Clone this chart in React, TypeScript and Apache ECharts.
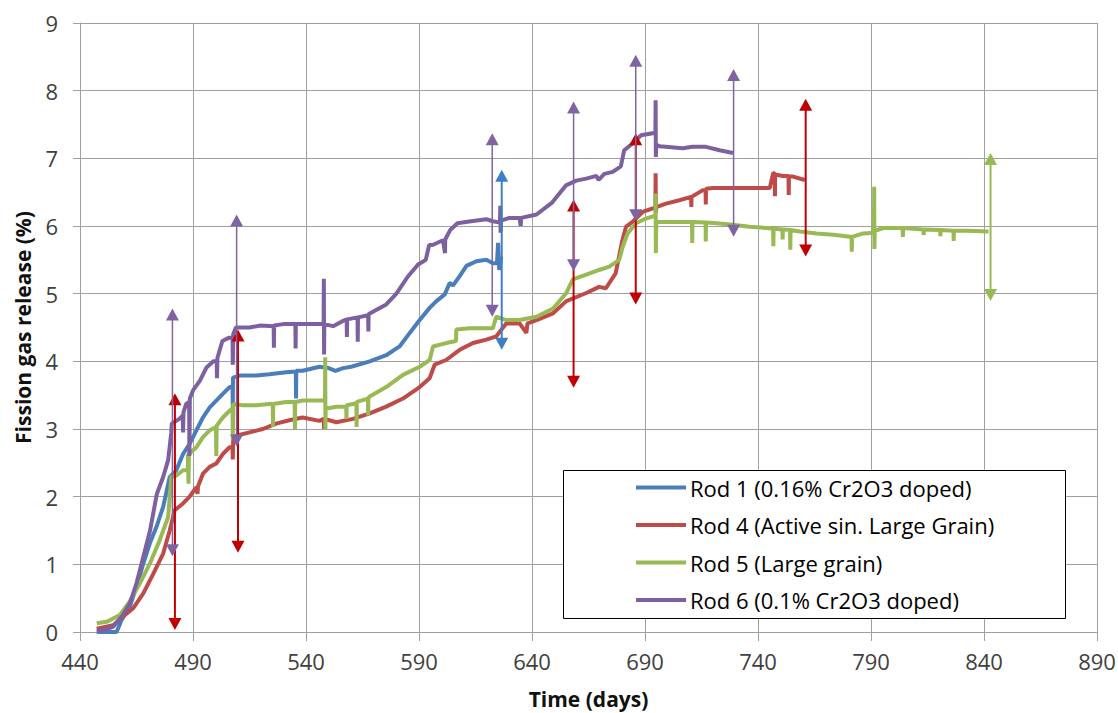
import React, { useEffect, useRef } from "react";
import * as echarts from "echarts";

// x axis starts at 440 days, ticks every 50 days
const X_MIN = 440;
const X_MAX = 890;
const X_STEP = 50;
const Y_MIN = 0;
const Y_MAX = 9;

const seriesNames = [
  "Rod 1 (0.16% Cr2O3 doped)",
  "Rod 4 (Active sin. Large Grain)",
  "Rod 5 (Large grain)",
  "Rod 6 (0.1% Cr2O3 doped)",
];
const lineColors = ["#4A7EBB", "#BE4B48", "#98B954", "#7D60A0"];
const arrowColors = ["#3F7FC6", "#C00000", "#98B954", "#8064A2"];

// [day, fission gas release %]
const rod1 = [
  [447.4, 0], [456.2, 0], [458.4, 0.18], [462, 0.37], [465, 0.67], [468, 1.01], [470.9, 1.31],
  [473.8, 1.55], [476.8, 1.85], [479.7, 2.29], [482.6, 2.39], [485.6, 2.63], [488.5, 2.78],
  [491.5, 2.98], [494.4, 3.17], [497.4, 3.32], [500.3, 3.42], [503.2, 3.52], [506.2, 3.62],
  [507.5, 3.62], [507.6, 3.3], [507.7, 3.76], [510.6, 3.79], [518, 3.79], [523.8, 3.81],
  [531.2, 3.84], [535.5, 3.85], [535.6, 3.45], [535.7, 3.86], [538.5, 3.86], [546, 3.92],
  [550, 3.9], [553, 3.86], [556.4, 3.9], [560, 3.92], [568.2, 4.0], [575.5, 4.09], [581.4, 4.22],
  [585.9, 4.42], [590.3, 4.61], [594.7, 4.79], [597.7, 4.89], [601.4, 4.99], [603.6, 5.16],
  [605, 5.12], [608, 5.26], [611, 5.41], [615.4, 5.48], [619.8, 5.5], [622.7, 5.45],
  [624.5, 5.45], [625, 5.75], [625.5, 5.35], [626.4, 5.55],
];

const rod4 = [
  [447.4, 0.05], [454.7, 0.1], [459.1, 0.23], [463.5, 0.35], [468, 0.57], [472.4, 0.86],
  [476.8, 1.16], [479.7, 1.5], [481.9, 1.8], [485.6, 1.9], [488.5, 2.0], [491.5, 2.14],
  [492, 2.04], [492.2, 2.15], [494.4, 2.34], [497.4, 2.44], [500.3, 2.49], [503.2, 2.63],
  [506.2, 2.73], [507.5, 2.73], [507.6, 2.55], [507.8, 2.85], [509.1, 2.9], [515, 2.95],
  [520.9, 3.0], [526.8, 3.08], [532.6, 3.13], [538.5, 3.17], [546, 3.12], [547.9, 3.15],
  [548, 3.0], [548.1, 3.15], [553.4, 3.1], [560.8, 3.15], [568.2, 3.23], [575.5, 3.33],
  [582.9, 3.45], [590.3, 3.62], [594.7, 3.75], [596.9, 3.95], [602, 4.02], [608, 4.17],
  [613.9, 4.27], [619.8, 4.32], [624.2, 4.37], [628.6, 4.56], [634.5, 4.56], [637.5, 4.42],
  [638, 4.56], [642, 4.61], [649.3, 4.71], [655.2, 4.89], [664, 5.01], [669.7, 5.1],
  [672.7, 5.08], [677, 5.3], [680, 5.79], [681.6, 5.99], [684.5, 6.06], [689, 6.21],
  [693.4, 6.26], [694.6, 6.26], [694.7, 6.78], [694.8, 6.2], [695, 6.28], [699.3, 6.33],
  [705.2, 6.38], [710.4, 6.43], [710.5, 6.28], [710.6, 6.43], [715.6, 6.53], [716.8, 6.53],
  [716.9, 6.32], [717, 6.55], [720, 6.56], [728.9, 6.56], [736.3, 6.56], [745.2, 6.56],
  [746.7, 6.78], [747.4, 6.78], [747.5, 6.44], [747.6, 6.76], [751, 6.74], [753.5, 6.74],
  [753.6, 6.46], [753.7, 6.73], [755.5, 6.73], [760.7, 6.68],
];

const rod5 = [
  [447.4, 0.13], [451.8, 0.15], [457.6, 0.25], [462, 0.45], [466.5, 0.72], [470.9, 1.01],
  [475.3, 1.36], [479, 1.7], [480.4, 2.29], [482.6, 2.31], [485.6, 2.39], [487.7, 2.39],
  [487.8, 2.63], [488, 2.19], [488.2, 2.63], [491.5, 2.73], [494.4, 2.88], [497.4, 2.98],
  [500.2, 3.03], [500.3, 2.6], [500.5, 3.05], [503.2, 3.17], [506.2, 3.27], [507.5, 3.3],
  [507.6, 2.85], [507.8, 3.37], [512, 3.35], [518, 3.35], [523.8, 3.37], [525.3, 3.37],
  [525.4, 3.03], [525.5, 3.37], [531.2, 3.4], [535, 3.4], [535.1, 3.0], [535.2, 3.4],
  [538.5, 3.42], [548.4, 3.42], [548.5, 4.06], [548.6, 3.0], [548.7, 3.3], [553.4, 3.33],
  [557.8, 3.33], [557.9, 3.15], [558, 3.35], [562.3, 3.38], [562.4, 3.03], [562.5, 3.4],
  [567.4, 3.45], [567.5, 3.2], [567.6, 3.46], [568.2, 3.48], [575.5, 3.62], [582.9, 3.8],
  [590.3, 3.92], [594.7, 4.02], [596.2, 4.22], [602, 4.27], [606.4, 4.3], [606.5, 4.47],
  [612.4, 4.49], [622.7, 4.49], [624.2, 4.66], [628.6, 4.61], [634.5, 4.61], [642, 4.66],
  [649.3, 4.78], [655.2, 5.01], [658.1, 5.21], [664, 5.28], [669.7, 5.35], [674.2, 5.4],
  [678.6, 5.5], [680.1, 5.69], [682.3, 5.89], [686, 6.04], [690.4, 6.11], [693.4, 6.14],
  [694.6, 6.14], [694.7, 6.48], [694.8, 5.6], [695, 6.06], [696.4, 6.06], [706.7, 6.06],
  [710.8, 6.06], [710.9, 5.75], [711, 6.06], [716.8, 6.05], [716.9, 5.77], [717, 6.05],
  [721.5, 6.04], [728.9, 6.02], [736.3, 5.99], [743.7, 5.97], [746.7, 5.96], [746.8, 5.7],
  [746.9, 5.96], [750.8, 5.95], [750.9, 5.8], [751, 5.95], [754.2, 5.94], [754.3, 5.65],
  [754.4, 5.94], [758.5, 5.92], [765.9, 5.89], [773.3, 5.87], [780.7, 5.84], [781.4, 5.84],
  [781.5, 5.62], [781.6, 5.84], [786.6, 5.89], [791.3, 5.9], [791.4, 6.58], [791.5, 5.66],
  [791.7, 5.93], [795.5, 5.97], [802.9, 5.97], [804, 5.97], [804.1, 5.84], [804.2, 5.97],
  [813.2, 5.95], [813.3, 5.87], [813.4, 5.95], [820.6, 5.94], [820.7, 5.85], [820.8, 5.94],
  [826.5, 5.93], [826.6, 5.78], [826.7, 5.93], [832.5, 5.93], [842, 5.92],
];

const rod6 = [
  [447.4, 0.02], [451, 0.03], [454.7, 0.08], [459, 0.25], [462, 0.42], [465, 0.72], [468, 1.11],
  [471, 1.5], [474, 2.04], [476.8, 2.29], [479, 2.54], [480.4, 2.95], [480.6, 3.08], [484, 3.15],
  [485.5, 3.2], [485.6, 2.95], [485.8, 3.25], [487, 3.37], [488.3, 3.4], [488.4, 2.6],
  [488.6, 3.45], [490, 3.57], [493, 3.71], [496, 3.91], [499, 4.0], [500.5, 4.0],
  [500.6, 3.75], [500.8, 4.05], [503, 4.3], [506, 4.35], [507.5, 4.35], [507.6, 3.95],
  [507.8, 4.4], [509, 4.5], [515, 4.5], [520, 4.53], [525.7, 4.52], [525.8, 4.2],
  [525.9, 4.53], [530, 4.55], [535.3, 4.55], [535.4, 4.19], [535.5, 4.55], [540, 4.55],
  [547.8, 4.55], [547.9, 5.22], [548, 4.1], [548.1, 4.55], [552, 4.52], [556.5, 4.6],
  [558, 4.62], [558.1, 4.36], [558.2, 4.62], [562.8, 4.65], [562.9, 4.29], [563, 4.65],
  [567.5, 4.68], [567.6, 4.44], [567.7, 4.7], [569, 4.72], [575.5, 4.84], [580, 5.0],
  [585, 5.25], [589.6, 5.43], [593, 5.5], [594.5, 5.72], [596, 5.72], [600.6, 5.79],
  [601.5, 5.6], [601.6, 5.8], [603.8, 5.94], [607, 6.04], [613, 6.07], [619.8, 6.1],
  [622.7, 6.07], [625.8, 6.05], [626, 6.3], [626.1, 5.9], [626.3, 6.08], [630, 6.12],
  [634.5, 6.12], [635, 6.0], [635.2, 6.12], [642, 6.17], [649, 6.35], [655, 6.6],
  [659.6, 6.67], [664, 6.7], [668.5, 6.74], [669.5, 6.68], [672, 6.77], [675.7, 6.8],
  [679.3, 6.88], [680.8, 7.12], [684.5, 7.22], [688.2, 7.34], [693.4, 7.37], [694.6, 7.37],
  [694.7, 7.86], [694.8, 7.02], [695, 7.2], [696.4, 7.18], [706.7, 7.15], [711, 7.17],
  [717, 7.17], [723, 7.12], [728.9, 7.08],
];

// error bars: [day, low, high]
const rod1Bars = [[626.6, 4.17, 6.83]];
const rod4Bars = [
  [482, 0.03, 3.53], [509.9, 1.17, 4.47], [658.4, 3.61, 6.39], [685.9, 4.84, 7.37], [761.1, 5.55, 7.88],
];
const rod5Bars = [[842.9, 4.89, 7.08]];
const rod6Bars = [
  [480.9, 1.12, 4.78], [509.3, 2.74, 6.17], [622.4, 4.66, 7.37], [658.4, 5.33, 7.84],
  [685.9, 6.07, 8.53], [729.2, 5.84, 8.32],
];

const FONT = "'Open Sans', 'Noto Sans', sans-serif";

export default function App() {
  const ref = useRef<HTMLDivElement>(null);

  useEffect(() => {
    const chart = echarts.init(ref.current!, null, { renderer: "svg" });

    const shift = (rows: number[][]) => rows.map((r) => [r[0] - X_MIN, ...r.slice(1)]);
    const lines = [rod1, rod4, rod5, rod6];
    const bars = [rod1Bars, rod4Bars, rod5Bars, rod6Bars];
    const barWidths = [2, 2, 2, 1.5];

    const lineSeries = lines.map((d, i) => ({
      name: seriesNames[i],
      type: "line",
      data: shift(d),
      showSymbol: false,
      symbol: "none",
      lineStyle: { color: lineColors[i], width: 4 },
      itemStyle: { color: lineColors[i] },
      z: 2 + i * 0.01,
    }));

    const barSeries = bars.map((d, i) => ({
      name: "bars" + i,
      type: "custom",
      data: shift(d),
      encode: { x: 0, y: [1, 2] },
      z: 5,
      renderItem: (params: any, api: any) => {
        const x = api.value(0);
        const lo = api.value(1);
        const hi = api.value(2);
        const top = api.coord([x, hi]);
        const bot = api.coord([x, lo]);
        const w = 6.5;
        const h = 12;
        const c = arrowColors[i];
        return {
          type: "group",
          children: [
            {
              type: "line",
              shape: { x1: top[0], y1: top[1] + h - 1, x2: bot[0], y2: bot[1] - h + 1 },
              style: { stroke: c, lineWidth: barWidths[i] },
            },
            {
              type: "polygon",
              shape: { points: [[top[0], top[1]], [top[0] - w, top[1] + h], [top[0] + w, top[1] + h]] },
              style: { fill: c },
            },
            {
              type: "polygon",
              shape: { points: [[bot[0], bot[1]], [bot[0] - w, bot[1] - h], [bot[0] + w, bot[1] - h]] },
              style: { fill: c },
            },
          ],
        };
      },
    }));

    const gridColor = "#A0A0A0";

    chart.setOption({
      animation: false,
      backgroundColor: "#ffffff",
      grid: { left: 80, right: 21, top: 23, bottom: 81, containLabel: false, outerBoundsMode: "none" },
      xAxis: {
        type: "value",
        min: 0,
        max: X_MAX - X_MIN,
        interval: X_STEP,
        name: "Time (days)",
        nameLocation: "middle",
        nameGap: 56,
        nameTextStyle: { fontFamily: FONT, fontSize: 21, fontWeight: "bold", color: "#111" },
        axisLine: { show: true, lineStyle: { color: gridColor, width: 1 } },
        axisTick: { show: true, length: 9, lineStyle: { color: gridColor } },
        axisLabel: {
          formatter: (v: number) => String(v + X_MIN),
          fontFamily: FONT,
          fontSize: 22,
          color: "#404040",
          margin: 18,
          showMaxLabel: true,
          showMinLabel: true,
        },
        splitLine: { show: true, lineStyle: { color: gridColor, width: 1 } },
      },
      yAxis: {
        type: "value",
        min: Y_MIN,
        max: Y_MAX,
        interval: 1,
        name: "Fission gas release (%)",
        nameLocation: "middle",
        nameGap: 47,
        nameRotate: 90,
        nameTextStyle: { fontFamily: FONT, fontSize: 21, fontWeight: "bold", color: "#111" },
        axisLine: { show: true, lineStyle: { color: gridColor, width: 1 } },
        axisTick: { show: true, length: 7, lineStyle: { color: gridColor } },
        axisLabel: { fontFamily: FONT, fontSize: 22, color: "#404040", margin: 22 },
        splitLine: { show: true, lineStyle: { color: gridColor, width: 1 } },
      },
      legend: {
        data: seriesNames.map((n, i) => ({ name: n, itemStyle: { color: lineColors[i] } })),
        orient: "vertical",
        left: 636,
        top: 475,
        padding: 0,
        itemWidth: 50,
        itemHeight: 4,
        itemGap: 12.5,
        icon: "rect",
        textStyle: { fontFamily: FONT, fontSize: 22, color: "#000", lineHeight: 25, padding: [0, 0, 0, -1] },
        z: 10,
      },
      graphic: [
        {
          type: "rect",
          shape: { x: 563.5, y: 470.5, width: 502, height: 148 },
          style: { fill: "#fff", stroke: "#000", lineWidth: 1 },
          z: 8,
        },
      ],
      series: [...lineSeries, ...barSeries],
    });

    return () => chart.dispose();
  }, []);

  return (
    <div
      ref={ref}
      style={{ position: "fixed", left: 0, top: 0, width: 1118, height: 713, background: "#fff" }}
    />
  );
}
